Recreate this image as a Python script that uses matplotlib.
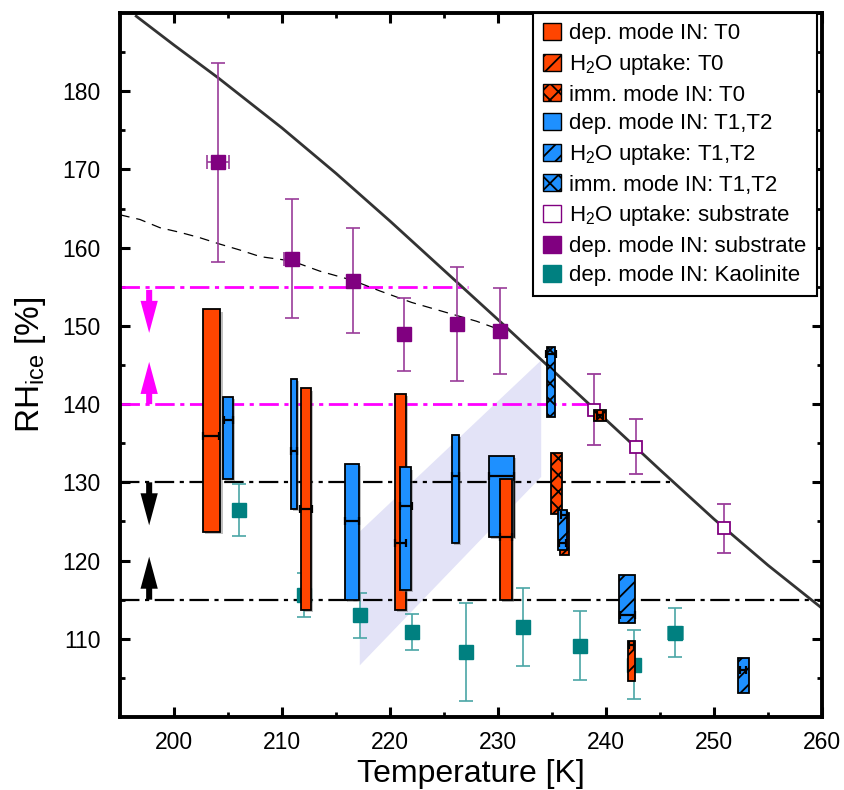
import matplotlib
matplotlib.use("Agg")
import matplotlib.pyplot as plt
import matplotlib.patheffects as pe
from matplotlib.patches import Patch

plt.rcParams["font.family"] = ["Liberation Sans", "DejaVu Sans"]
plt.rcParams["mathtext.fontset"] = "custom"
plt.rcParams["mathtext.rm"] = "Liberation Sans"
plt.rcParams["mathtext.default"] = "regular"
plt.rcParams["hatch.linewidth"] = 1.3
plt.rcParams["lines.scale_dashes"] = False

ORANGE = "#ff4500"
BLUE = "#1e90ff"
PURPLE = "#800080"
TEAL = "#008080"
MAGENTA = "#ff00ff"

# deposition mode IN, T0 (solid orange boxes)
t0_lo = [202.65, 211.8, 220.5, 230.2]
t0_hi = [204.3, 212.7, 221.5, 231.3]
t0_bottom = [123.7, 113.7, 113.7, 115.0]
t0_top = [152.1, 142.0, 141.25, 130.4]
t0_mark_T = [203.45, 212.2, 221.0, 230.75]
t0_mark_xerr = [0.75, 0.55, 0.5, 0.55]
t0_mark_rh = [135.9, 126.6, 122.3, 123.0]

# water uptake, T0 (hatched orange)
t0w_lo = [235.7, 242.0]
t0w_hi = [236.6, 242.7]
t0w_bottom = [120.7, 104.6]
t0w_top = [126.1, 109.7]
t0w_mark_T = [236.1, 242.35]
t0w_mark_xerr = [0.3, 0.25]
t0w_mark_rh = [125.8, 109.2]

# immersion mode IN, T0 (cross-hatched orange)
t0i_lo = [234.9, 238.9]
t0i_hi = [235.9, 240.0]
t0i_bottom = [125.95, 137.9]
t0i_top = [133.7, 139.3]
t0i_mark_T = [239.45]
t0i_mark_xerr = [0.3]
t0i_mark_rh = [138.6]

# deposition mode IN, T1/T2 (solid blue boxes)
t12_lo = [204.56, 210.87, 215.8, 220.9, 225.7, 229.2]
t12_hi = [205.5, 211.4, 217.1, 221.9, 226.4, 231.5]
t12_bottom = [130.4, 126.6, 115.0, 116.2, 122.2, 123.0]
t12_top = [140.9, 143.2, 132.3, 131.9, 136.0, 133.4]
t12_mark_T = [205.05, 211.1, 216.45, 221.45, 226.05, 230.35]
t12_mark_xerr = [0.45, 0.3, 0.65, 0.55, 0.35, 1.15]
t12_mark_rh = [138.0, 134.0, 125.0, 127.0, 130.85, 130.85]

# water uptake, T1/T2 (hatched blue)
t12w_lo = [235.6, 241.2, 252.2]
t12w_hi = [236.35, 242.65, 253.2]
t12w_bottom = [121.4, 112.05, 103.1]
t12w_top = [126.4, 118.1, 107.6]
t12w_mark_T = [235.95, 241.95, 252.7]
t12w_mark_xerr = [0.3, 0.7, 0.3]
t12w_mark_rh = [122.2, 113.0, 106.0]

# immersion mode IN, T1/T2 (cross-hatched blue)
t12i_lo = [234.5]
t12i_hi = [235.3]
t12i_bottom = [138.3]
t12i_top = [147.3]
t12i_mark_T = [234.9]
t12i_mark_xerr = [0.45]
t12i_mark_rh = [146.4]

# substrate: deposition mode (filled) and water uptake (open)
sub_T = [204.1, 210.9, 216.6, 221.3, 226.2, 230.2]
sub_rh = [170.9, 158.6, 155.8, 148.9, 150.2, 149.3]
sub_err = [12.75, 7.6, 6.7, 4.7, 7.3, 5.5]
sub_xerr = [1.0, 0.7, 0.3, 0.3, 0.3, 0.3]

subw_T = [238.9, 242.8, 250.9]
subw_rh = [139.3, 134.55, 124.1]
subw_err = [4.5, 3.5, 3.1]

# kaolinite reference
kao_T = [206.0, 212.0, 217.2, 222.0, 227.0, 232.3, 237.6, 242.55, 246.4]
kao_rh = [126.5, 115.6, 113.0, 110.9, 108.3, 111.5, 109.1, 106.7, 110.8]
kao_err = [3.3, 2.8, 2.9, 2.3, 6.3, 5.0, 4.4, 4.45, 3.15]
kao_xerr = [0.3, 0.3, 0.3, 0.3, 0.3, 0.3, 0.3, 0.4, 0.7]

# water saturation line and the dashed onset curve
sat_T = [196.4, 200, 204.1, 210, 215, 220, 225, 230, 235, 240, 245, 250, 255, 260]
sat_rh = [189.7, 185.9, 181.7, 175.3, 169.5, 163.4, 157.1, 150.8, 144.4, 138.0,
          131.6, 125.3, 119.4, 113.9]
dash_T = [195.0, 196.85, 198.7, 200.55, 202.4, 204.26, 206.1, 208.0, 210.9,
          213.5, 216.6, 219.0, 222.0, 225.0, 228.0, 230.2]
dash_rh = [164.2, 163.6, 162.55, 161.96, 161.27, 160.45, 159.7, 158.85, 158.3,
           157.0, 155.8, 154.5, 153.0, 151.8, 150.6, 149.5]

# shaded band
band_T = [217.2, 217.2, 234.0, 234.0]
band_rh = [106.6, 123.7, 145.6, 130.7]

# threshold lines: (RH, end temperature)
mag_levels = [155.0, 140.0]
mag_ends = [227.2, 238.3]
blk_levels = [130.0, 115.0]
blk_ends = [246.1, 260.0]

fig = plt.figure(figsize=(8.44, 7.90), dpi=100)
ax = fig.add_axes([120 / 844, 1 - 717 / 790, 702 / 844, 704 / 790])
ax.set_xlim(195, 260)
ax.set_ylim(100, 190)

ax.fill(band_T, band_rh, color="#e3e3f7", lw=0, zorder=1)

for y, x1 in zip(mag_levels, mag_ends):
    ax.plot([195, x1], [y, y], color=MAGENTA, lw=2.0,
            dashes=(14, 4, 3, 4), zorder=2)
for y, x1 in zip(blk_levels, blk_ends):
    ax.plot([195, x1], [y, y], color="black", lw=1.6,
            dashes=(14, 4, 3, 4), zorder=2)

ax.plot(sat_T, sat_rh, color="#333333", lw=2.0, zorder=2, solid_capstyle="butt")
ax.plot(dash_T, dash_rh, color="black", lw=0.9, dashes=(7, 5), zorder=2)

# arrows marking the onset ranges
arr = dict(width=0.56, head_width=1.6, head_length=4.1,
           length_includes_head=True, lw=0, zorder=4)
ax.arrow(197.7, 154.6, 0, -5.5, color=MAGENTA, **arr)
ax.arrow(197.7, 140.0, 0, 5.4, color=MAGENTA, **arr)
ax.arrow(197.7, 130.0, 0, -5.5, color="black", **arr)
ax.arrow(197.7, 115.0, 0, 5.5, color="black", **arr)

# reference points
ax.errorbar(kao_T, kao_rh, yerr=kao_err, xerr=kao_xerr, fmt="s", ms=9.5,
            mfc=TEAL, mec=TEAL, ecolor="#4aa6a6", elinewidth=1.2,
            capsize=4.7, capthick=1.2, zorder=2.6)
ax.errorbar(sub_T, sub_rh, yerr=sub_err, xerr=sub_xerr, fmt="s", ms=9.5,
            mfc=PURPLE, mec=PURPLE, ecolor="#9a3c9a", elinewidth=1.2,
            capsize=4.7, capthick=1.2, zorder=2.6)
ax.errorbar(subw_T, subw_rh, yerr=subw_err, fmt="s", ms=9,
            mfc="white", mec=PURPLE, mew=1.3, ecolor="#9a3c9a", elinewidth=1.2,
            capsize=4.7, capthick=1.2, zorder=2.6)

shadow = [pe.SimplePatchShadow(offset=(1.5, -1.5), shadow_rgbFace="0.45", alpha=0.45),
          pe.Normal()]


def boxes(lo, hi, bottom, top, color, hatch=None):
    for a, b, y0, y1 in zip(lo, hi, bottom, top):
        # wide boxes sit behind the narrow ones
        z = 2.9 if b - a > 2 else 3.0
        if color == BLUE and b - a <= 2:
            z = 3.2
        ax.bar(a, y1 - y0, width=b - a, bottom=y0, align="edge", color=color,
               edgecolor="black", linewidth=1.3, hatch=hatch, zorder=z,
               path_effects=None if hatch else shadow)


def marks(t, rh, xerr):
    ax.errorbar(t, rh, xerr=xerr, fmt="none", ecolor="black", elinewidth=1.6,
                capsize=3, capthick=1.6, zorder=6)


boxes(t0_lo, t0_hi, t0_bottom, t0_top, ORANGE)
boxes(t12_lo, t12_hi, t12_bottom, t12_top, BLUE)
boxes(t0w_lo, t0w_hi, t0w_bottom, t0w_top, ORANGE, "//")
boxes(t0i_lo, t0i_hi, t0i_bottom, t0i_top, ORANGE, "xx")
boxes(t12w_lo, t12w_hi, t12w_bottom, t12w_top, BLUE, "//")
boxes(t12i_lo, t12i_hi, t12i_bottom, t12i_top, BLUE, "xx")

marks(t0_mark_T, t0_mark_rh, t0_mark_xerr)
marks(t12_mark_T, t12_mark_rh, t12_mark_xerr)
marks(t0w_mark_T, t0w_mark_rh, t0w_mark_xerr)
marks(t0i_mark_T, t0i_mark_rh, t0i_mark_xerr)
marks(t12w_mark_T, t12w_mark_rh, t12w_mark_xerr)
marks(t12i_mark_T, t12i_mark_rh, t12i_mark_xerr)

handles = [
    Patch(facecolor=ORANGE, edgecolor="black", label="dep. mode IN: T0"),
    Patch(facecolor=ORANGE, edgecolor="black", hatch="//", label="H$_2$O uptake: T0"),
    Patch(facecolor=ORANGE, edgecolor="black", hatch="xx", label="imm. mode IN: T0"),
    Patch(facecolor=BLUE, edgecolor="black", label="dep. mode IN: T1,T2"),
    Patch(facecolor=BLUE, edgecolor="black", hatch="//", label="H$_2$O uptake: T1,T2"),
    Patch(facecolor=BLUE, edgecolor="black", hatch="xx", label="imm. mode IN: T1,T2"),
    Patch(facecolor="white", edgecolor=PURPLE, label="H$_2$O uptake: substrate"),
    Patch(facecolor=PURPLE, edgecolor=PURPLE, label="dep. mode IN: substrate"),
    Patch(facecolor=TEAL, edgecolor=TEAL, label="dep. mode IN: Kaolinite"),
]
leg = ax.legend(handles=handles, loc="upper right", bbox_to_anchor=(0.9925, 1.0),
                borderaxespad=0, fontsize=16, fancybox=False, edgecolor="black",
                framealpha=1, handlelength=0.8, handleheight=0.8,
                handletextpad=0.4, labelspacing=0.34, borderpad=0.45)
leg.get_frame().set_linewidth(1.5)
leg.set_zorder(10)

ax.set_xticks(range(200, 261, 10))
ax.set_xticks(range(200, 260, 5), minor=True)
ax.set_yticks(range(110, 181, 10))
ax.set_yticks(range(105, 190, 5), minor=True)
ax.tick_params(which="both", direction="in", top=True, right=True, labelsize=16.5)
ax.tick_params(which="major", length=7, width=2.2)
ax.tick_params(which="minor", length=3.5, width=2)
ax.tick_params(axis="y", pad=14)
ax.tick_params(axis="x", pad=10)
for s in ax.spines.values():
    s.set_linewidth(2.8)

ax.set_xlabel("Temperature [K]", fontsize=23, labelpad=4)
ax.set_ylabel("RH$_{ice}$ [%]", fontsize=24, labelpad=10)

fig.savefig("out.png", dpi=100)
